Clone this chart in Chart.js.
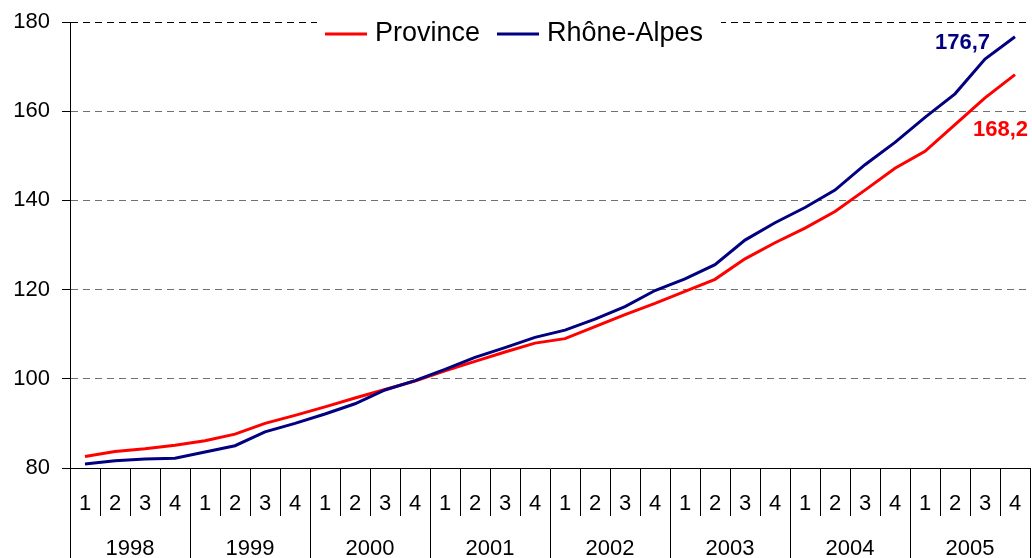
<!DOCTYPE html>
<html>
<head>
<meta charset="utf-8">
<script src="https://cdn.jsdelivr.net/npm/chart.js@4"></script>
<style>
  html, body { margin: 0; padding: 0; background: #fff; }
  #chart { display: block; }
</style>
</head>
<body>
<canvas id="chart" width="1032" height="558"></canvas>
<script>
const years = ['1998', '1999', '2000', '2001', '2002', '2003', '2004', '2005'];
const quarters = ['1', '2', '3', '4'];
const province = [
    82.6, 83.7, 84.3, 85.1, 86.1, 87.6, 90.0, 91.8,
    93.7, 95.7, 97.6, 99.5, 101.8, 103.9, 106.0, 108.0,
    109.0, 111.7, 114.4, 116.9, 119.6, 122.3, 126.9, 130.5,
    133.8, 137.5, 142.3, 147.2, 151.0, 157.0, 163.0, 168.2
];
const rhoneAlpes = [
    80.9, 81.6, 82.0, 82.2, 83.6, 85.0, 88.1, 90.0,
    92.1, 94.4, 97.5, 99.6, 102.1, 104.8, 107.0, 109.3,
    110.9, 113.4, 116.2, 119.8, 122.4, 125.6, 131.1, 135.0,
    138.4, 142.3, 148.0, 153.0, 158.6, 163.9, 171.7, 176.7
];
const yTicks = [80, 100, 120, 140, 160, 180];

const RED = '#ff0000';
const BLUE = '#000080';
const FONT = "'Liberation Sans', Arial, sans-serif";

// one label per quarter, e.g. "1998 T1"
const labels = [];
years.forEach((y) => quarters.forEach((q) => labels.push(`${y} T${q}`)));

// legend box + end values, drawn over the plot
const overlay = {
    id: 'overlay',
    afterDraw(chart) {
        const ctx = chart.ctx;
        ctx.save();
        ctx.fillStyle = '#fff';
        ctx.fillRect(317, 12, 404, 42);

        ctx.font = `27px ${FONT}`;
        ctx.textBaseline = 'alphabetic';
        ctx.lineWidth = 3;
        const items = [
            { text: 'Province', color: RED, x: 325 },
            { text: 'Rhône-Alpes', color: BLUE, x: 497 },
        ];
        items.forEach((it) => {
            ctx.strokeStyle = it.color;
            ctx.beginPath();
            ctx.moveTo(it.x, 34);
            ctx.lineTo(it.x + 42, 34);
            ctx.stroke();
            ctx.fillStyle = '#000';
            ctx.fillText(it.text, it.x + 50, 41);
        });

        ctx.font = `bold 22px ${FONT}`;
        const metaRed = chart.getDatasetMeta(0).data;
        const metaBlue = chart.getDatasetMeta(1).data;
        const lastRed = metaRed[metaRed.length - 1];
        const lastBlue = metaBlue[metaBlue.length - 1];
        ctx.fillStyle = BLUE;
        ctx.textAlign = 'right';
        ctx.fillText(rhoneAlpes[rhoneAlpes.length - 1].toFixed(1).replace('.', ','), lastBlue.x - 25, lastBlue.y + 12);
        ctx.fillStyle = RED;
        ctx.textAlign = 'left';
        ctx.fillText(province[province.length - 1].toFixed(1).replace('.', ','), lastRed.x - 42, lastRed.y + 61);
        ctx.restore();
    }
};

new Chart(document.getElementById('chart'), {
    type: 'line',
    data: {
        labels,
        datasets: [
            {
                label: 'Province',
                data: province,
                borderColor: RED,
                borderWidth: 3,
                pointRadius: 0,
                tension: 0,
                order: 1,
            },
            {
                label: 'Rhône-Alpes',
                data: rhoneAlpes,
                borderColor: BLUE,
                borderWidth: 3,
                pointRadius: 0,
                tension: 0,
                order: 0,
            },
        ],
    },
    options: {
        responsive: false,
        animation: false,
        layout: { padding: { top: 22, right: 2, left: 0, bottom: 0 } },
        plugins: {
            legend: { display: false },
            tooltip: { enabled: false },
        },
        scales: {
            x: {
                type: 'category',
                position: 'bottom',
                offset: true,
                grid: {
                    offset: true,
                    drawOnChartArea: false,
                    tickLength: 48,
                    tickColor: '#000',
                    tickWidth: 1,
                },
                border: { display: true, color: '#000', width: 1 },
                ticks: {
                    autoSkip: false,
                    maxRotation: 0,
                    padding: -25,
                    color: '#000',
                    font: { family: FONT, size: 22 },
                    callback: (value, index) => quarters[index % 4],
                },
                afterFit: (scale) => { scale.height = 48; },
            },
            x2: {
                type: 'category',
                position: 'bottom',
                labels: years,
                offset: true,
                grid: {
                    offset: true,
                    drawOnChartArea: false,
                    tickLength: 42,
                    tickColor: '#000',
                    tickWidth: 1,
                },
                border: { display: false },
                ticks: {
                    autoSkip: false,
                    maxRotation: 0,
                    padding: -22,
                    color: '#000',
                    font: { family: FONT, size: 22 },
                },
                afterFit: (scale) => { scale.height = 42; },
            },
            y: {
                min: yTicks[0],
                max: yTicks[yTicks.length - 1],
                ticks: {
                    stepSize: 20,
                    padding: 12,
                    color: '#000',
                    font: { family: FONT, size: 22 },
                },
                grid: {
                    color: (c) => (c.tick && c.tick.value === 180 ? '#000' : '#707070'),
                    lineWidth: 1,
                    tickLength: 8,
                    tickColor: '#000',
                    tickBorderDash: [],
                },
                border: { display: true, color: '#000', width: 1, dash: [7, 5] },
                afterFit: (scale) => {
                    scale.width = 70;
                    scale.paddingTop = 0;
                    scale.paddingBottom = 0;
                },
            },
        },
    },
    plugins: [overlay],
});
</script>
</body>
</html>
